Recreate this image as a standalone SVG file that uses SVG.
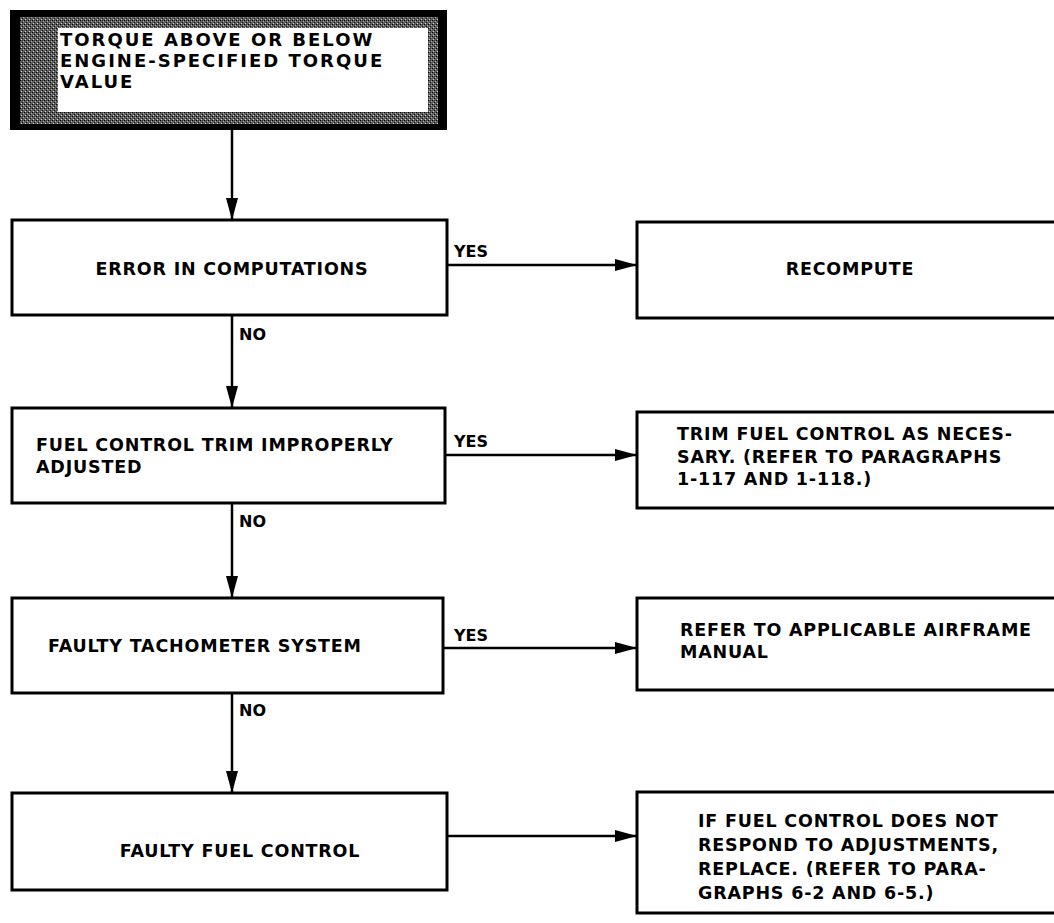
<svg xmlns="http://www.w3.org/2000/svg" width="1054" height="923" viewBox="0 0 1054 923">
  <defs>
    <!-- halftone screen used for the banner frame -->
    <pattern id="screen" width="4" height="4" patternUnits="userSpaceOnUse">
      <rect width="4" height="4" fill="#5e5e5e"/>
      <rect x="0" y="0" width="1" height="1" fill="#000"/>
      <rect x="2" y="2" width="1" height="1" fill="#111"/>
      <rect x="2" y="0" width="1" height="1" fill="#333"/>
      <rect x="1" y="3" width="1" height="1" fill="#ccc"/>
      <rect x="3" y="1" width="1" height="1" fill="#aaa"/>
    </pattern>
    <marker id="arrow" viewBox="0 0 22 12" refX="22" refY="6" markerWidth="22" markerHeight="12" markerUnits="userSpaceOnUse" orient="auto">
      <path d="M0,0 L22,6 L0,12 z" fill="#000"/>
    </marker>
  </defs>
  <style>
    .box { fill: #fff; stroke: #000; stroke-width: 3; }
    .t { font-family: "DejaVu Sans", "Liberation Sans", sans-serif; font-weight: bold; font-size: 17.5px; fill: #000; letter-spacing: 0.8px; }
    .big { font-size: 18px; letter-spacing: 2px; }
    .lbl { font-family: "DejaVu Sans", "Liberation Sans", sans-serif; font-weight: bold; font-size: 16px; fill: #000; }
    .edge { stroke: #000; stroke-width: 2.5; fill: none; marker-end: url(#arrow); }
  </style>

  <rect width="1054" height="923" fill="#fff"/>

  <!-- start condition -->
  <g id="start">
    <rect x="10" y="10" width="437" height="120" fill="#000"/>
    <rect x="20" y="17" width="418" height="107" fill="url(#screen)"/>
    <rect x="58" y="28" width="370" height="84" fill="#fff"/>
    <text class="t big" x="60" y="46">TORQUE ABOVE OR BELOW</text>
    <text class="t big" x="60" y="67">ENGINE-SPECIFIED TORQUE</text>
    <text class="t big" x="60" y="88">VALUE</text>
  </g>

  <!-- decision boxes -->
  <g id="q1">
    <rect class="box" x="12" y="220" width="435" height="95"/>
    <text class="t" x="232" y="275" text-anchor="middle">ERROR IN COMPUTATIONS</text>
  </g>
  <g id="q2">
    <rect class="box" x="12" y="408" width="433" height="95"/>
    <text class="t" x="36" y="451">FUEL CONTROL TRIM IMPROPERLY</text>
    <text class="t" x="36" y="473">ADJUSTED</text>
  </g>
  <g id="q3">
    <rect class="box" x="12" y="598" width="431" height="95"/>
    <text class="t" x="48" y="652">FAULTY TACHOMETER SYSTEM</text>
  </g>
  <g id="q4">
    <rect class="box" x="12" y="793" width="435" height="97"/>
    <text class="t" x="240" y="857" text-anchor="middle">FAULTY FUEL CONTROL</text>
  </g>

  <!-- action boxes -->
  <g id="a1">
    <rect class="box" x="637" y="222" width="430" height="96"/>
    <text class="t" x="850" y="275" text-anchor="middle">RECOMPUTE</text>
  </g>
  <g id="a2">
    <rect class="box" x="637" y="412" width="430" height="96"/>
    <text class="t" x="677" y="440">TRIM FUEL CONTROL AS NECES-</text>
    <text class="t" x="677" y="463">SARY.  (REFER TO PARAGRAPHS</text>
    <text class="t" x="677" y="485">1-117 AND 1-118.)</text>
  </g>
  <g id="a3">
    <rect class="box" x="637" y="598" width="430" height="92"/>
    <text class="t" x="680" y="636">REFER TO APPLICABLE AIRFRAME</text>
    <text class="t" x="680" y="658">MANUAL</text>
  </g>
  <g id="a4">
    <rect class="box" x="637" y="792" width="430" height="121"/>
    <text class="t" x="698" y="827">IF FUEL CONTROL DOES NOT</text>
    <text class="t" x="698" y="851">RESPOND TO ADJUSTMENTS,</text>
    <text class="t" x="698" y="875">REPLACE.  (REFER TO PARA-</text>
    <text class="t" x="698" y="899">GRAPHS 6-2 AND 6-5.)</text>
  </g>

  <!-- connectors and branch labels -->
  <g id="connectors">
    <line class="edge" x1="232" y1="130" x2="232" y2="220"/>
    <line class="edge" x1="232" y1="315" x2="232" y2="408"/>
    <line class="edge" x1="232" y1="503" x2="232" y2="598"/>
    <line class="edge" x1="232" y1="693" x2="232" y2="793"/>
    <line class="edge" x1="447" y1="265" x2="637" y2="265"/>
    <line class="edge" x1="445" y1="455" x2="637" y2="455"/>
    <line class="edge" x1="443" y1="648" x2="637" y2="648"/>
    <line class="edge" x1="447" y1="836" x2="637" y2="836"/>
    <text class="lbl" x="454" y="257">YES</text>
    <text class="lbl" x="454" y="447">YES</text>
    <text class="lbl" x="454" y="641">YES</text>
    <text class="lbl" x="239" y="340">NO</text>
    <text class="lbl" x="239" y="527">NO</text>
    <text class="lbl" x="239" y="716">NO</text>
  </g>
</svg>
